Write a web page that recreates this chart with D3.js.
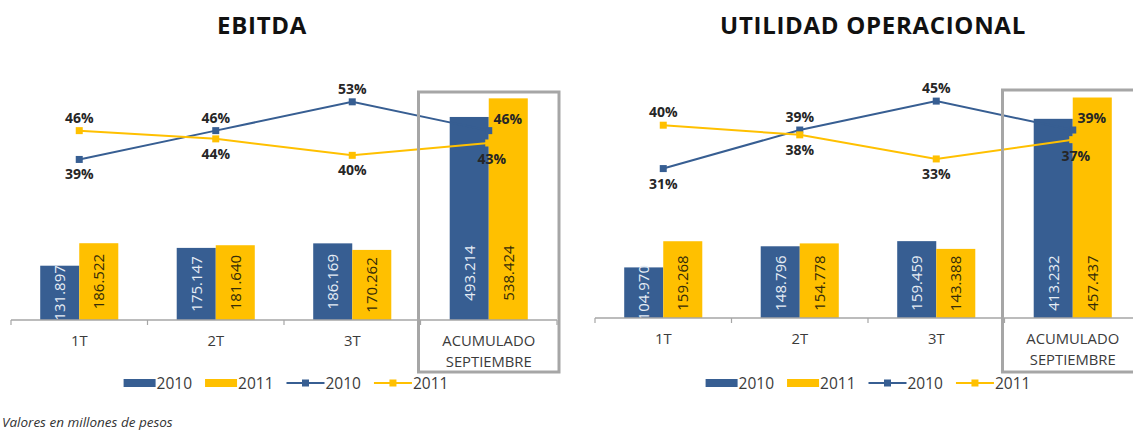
<!DOCTYPE html>
<html>
<head>
<meta charset="utf-8">
<script src="https://cdn.jsdelivr.net/npm/d3@7"></script>
<style>
  html, body { margin: 0; padding: 0; background: #ffffff; }
  svg { display: block; font-family: "Open Sans", "DejaVu Sans", sans-serif; }
</style>
</head>
<body>
<svg id="chart" width="1133" height="433"></svg>
<script>
// ---------- data ----------
const categories = ["1T", "2T", "3T", "ACUMULADO SEPTIEMBRE"];
const seriesNames = ["2010", "2011"];

const ebitda2010 = [131.897, 175.147, 186.169, 493.214];
const ebitda2011 = [186.522, 181.640, 170.262, 538.424];
const ebitdaMargin2010 = [39, 46, 53, 46];
const ebitdaMargin2011 = [46, 44, 40, 43];

const utilidad2010 = [104.970, 148.796, 159.459, 413.232];
const utilidad2011 = [159.268, 154.778, 143.388, 457.437];
const utilidadMargin2010 = [31, 39, 45, 39];
const utilidadMargin2011 = [40, 38, 33, 37];

const titles = ["EBITDA", "UTILIDAD OPERACIONAL"];
const footnote = "Valores en millones de pesos";

// ---------- style ----------
const BLUE = "#375e92";
const YELLOW = "#ffc000";
const GRAY = "#a6a6a6";
const TEXT = "#3b3b3b";

// label placement per point (2010 line, 2011 line)
const placement2010 = ["below", "above", "above", "right"];
const placement2011 = ["above", "below", "below", "belowAcc"];

const svg = d3.select("#chart");

function drawChart(cfg) {
  const g = svg.append("g");
  const x0 = d3.scaleBand().domain(categories).range([cfg.x0, cfg.x1]).padding(0);
  const bw = x0.bandwidth();
  const x1 = d3.scaleBand().domain(seriesNames)
      .range([bw * 0.214, bw * 0.786]).padding(0);
  const yBar = d3.scaleLinear().domain([0, cfg.barMax]).range([cfg.base, cfg.top]);
  const yPct = d3.scaleLinear().domain([0, cfg.pctMax]).range([cfg.base, cfg.top]);

  // title
  g.append("text")
    .attr("x", (cfg.titleCx)).attr("y", 34)
    .attr("text-anchor", "middle")
    .style("font-size", "24px").style("font-weight", "700")
    .style("letter-spacing", "0.7px")
    .attr("fill", "#111")
    .text(cfg.title);

  // bars
  const barSeries = [cfg.bars2010, cfg.bars2011];
  const colors = [BLUE, YELLOW];
  seriesNames.forEach((s, si) => {
    const vals = barSeries[si];
    g.selectAll(null).data(vals).enter().append("rect")
      .attr("x", (d, i) => x0(categories[i]) + x1(s))
      .attr("width", x1.bandwidth())
      .attr("y", d => yBar(d))
      .attr("height", d => cfg.base - yBar(d))
      .attr("fill", colors[si]);
  });

  // bar labels (rotated)
  const fmt = d3.format(".3f");
  seriesNames.forEach((s, si) => {
    const vals = barSeries[si];
    g.selectAll(null).data(vals).enter().append("text")
      .attr("transform", (d, i) => {
        const cx = x0(categories[i]) + x1(s) + x1.bandwidth() / 2;
        const cy = Math.max((yBar(d) + cfg.base) / 2, cfg.base - cfg.labelFloor);
        return `translate(${cx},${cy}) rotate(-90)`;
      })
      .attr("text-anchor", "middle")
      .attr("dy", "0.36em")
      .style("font-size", "15px")
      .attr("fill", si === 0 ? "#e6edf5" : "#352c08")
      .text(d => fmt(d));
  });

  // axis
  const ticks = categories.map(c => x0(c)).concat([cfg.x1]);
  g.append("line")
    .attr("x1", cfg.x0).attr("x2", cfg.x1)
    .attr("y1", cfg.base).attr("y2", cfg.base)
    .attr("stroke", GRAY).attr("stroke-width", 1.5);
  g.selectAll(null).data(ticks).enter().append("line")
    .attr("x1", d => d).attr("x2", d => d)
    .attr("y1", cfg.base).attr("y2", cfg.base + 5)
    .attr("stroke", GRAY).attr("stroke-width", 1.2);

  // category labels
  categories.forEach(c => {
    const words = c.split(" ");
    const t = g.append("text")
      .attr("x", x0(c) + bw / 2)
      .attr("y", cfg.base + 26)
      .attr("text-anchor", "middle")
      .style("font-size", "14.8px")
      .attr("fill", TEXT);
    words.forEach((w, wi) => {
      t.append("tspan").attr("x", x0(c) + bw / 2)
        .attr("dy", wi === 0 ? 0 : 21).text(w);
    });
  });

  // lines
  const lineSeries = [cfg.pct2010, cfg.pct2011];
  const placements = [placement2010, placement2011];
  const line = d3.line()
    .x((d, i) => x0(categories[i]) + bw / 2)
    .y(d => yPct(d));
  seriesNames.forEach((s, si) => {
    const vals = lineSeries[si];
    g.append("path").datum(vals)
      .attr("d", line)
      .attr("fill", "none")
      .attr("stroke", colors[si])
      .attr("stroke-width", 2);
    g.selectAll(null).data(vals).enter().append("rect")
      .attr("x", (d, i) => x0(categories[i]) + bw / 2 - 3.5)
      .attr("y", d => yPct(d) - 3.5)
      .attr("width", 7).attr("height", 7)
      .attr("fill", colors[si]);
  });
  // pct labels
  seriesNames.forEach((s, si) => {
    const vals = lineSeries[si];
    g.selectAll(null).data(vals).enter().append("text")
      .attr("x", (d, i) => {
        const cx = x0(categories[i]) + bw / 2;
        const p = placements[si][i];
        if (p === "right") return cx + 19;
        if (p === "belowAcc") return cx + 3;
        return cx;
      })
      .attr("y", (d, i) => {
        const cy = yPct(d);
        const p = placements[si][i];
        if (p === "above") return cy - 13;
        if (p === "below") return cy + 15;
        if (p === "right") return cy - 12;
        return cy + 16;
      })
      .attr("dy", "0.36em")
      .attr("text-anchor", "middle")
      .style("font-size", "14px").style("font-weight", "700")
      .attr("fill", "#262626")
      .text(d => d + "%");
  });

  // highlight box around accumulated category
  const acc = categories[categories.length - 1];
  g.append("rect")
    .attr("x", x0(acc) - 2).attr("y", cfg.boxTop)
    .attr("width", bw + 4).attr("height", 372 - cfg.boxTop)
    .attr("fill", "none")
    .attr("stroke", GRAY).attr("stroke-width", 3);

  // legend
  const lg = g.append("g");
  const items = [
    { type: "bar", color: BLUE, label: seriesNames[0] },
    { type: "bar", color: YELLOW, label: seriesNames[1] },
    { type: "line", color: BLUE, label: seriesNames[0] },
    { type: "line", color: YELLOW, label: seriesNames[1] }
  ];
  let cx = 0;
  const ly = 383;
  items.forEach((it, k) => {
    if (it.type === "bar") {
      lg.append("rect").attr("x", cx).attr("y", ly - 4).attr("width", 32).attr("height", 8)
        .attr("fill", it.color);
      cx += 33;
    } else {
      lg.append("line").attr("x1", cx).attr("x2", cx + 38)
        .attr("y1", ly).attr("y2", ly)
        .attr("stroke", it.color).attr("stroke-width", 2);
      lg.append("rect").attr("x", cx + 19 - 3.5).attr("y", ly - 3.5)
        .attr("width", 7).attr("height", 7).attr("fill", it.color);
      cx += 39;
    }
    const t = lg.append("text").attr("x", cx).attr("y", ly).attr("dy", "0.36em")
      .style("font-size", "15.5px").attr("fill", TEXT).text(it.label);
    cx += t.node().getComputedTextLength() + (k < items.length - 1 ? 13 : 0);
  });
  lg.attr("transform", `translate(${cfg.legendCx - cx / 2},0)`);
}

drawChart({
  title: titles[0], titleCx: 262,
  x0: 11, x1: 557, base: 320, top: 73,
  barMax: 600, pctMax: 60,
  bars2010: ebitda2010, bars2011: ebitda2011,
  pct2010: ebitdaMargin2010, pct2011: ebitdaMargin2011,
  labelFloor: 47, boxTop: 92, legendCx: 286
});

drawChart({
  title: titles[1], titleCx: 873,
  x0: 595, x1: 1141, base: 318, top: 77,
  barMax: 500, pctMax: 50,
  bars2010: utilidad2010, bars2011: utilidad2011,
  pct2010: utilidadMargin2010, pct2011: utilidadMargin2011,
  labelFloor: 35, boxTop: 90, legendCx: 868
});

svg.append("text")
  .attr("x", 2).attr("y", 427)
  .style("font-size", "13.5px").style("font-style", "italic")
  .attr("fill", "#333")
  .text(footnote);
</script>
</body>
</html>
